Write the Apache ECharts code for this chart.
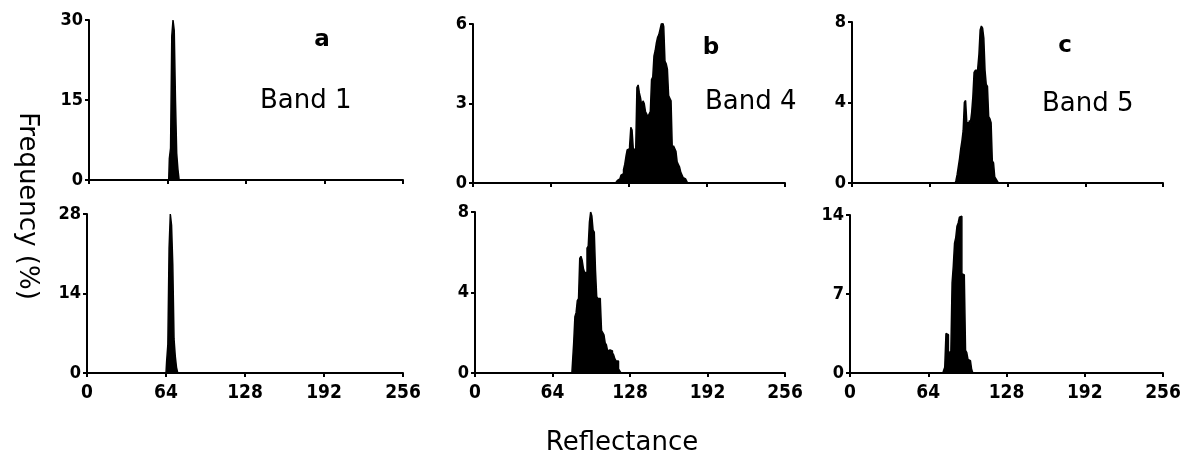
<!DOCTYPE html>
<html>
<head>
<meta charset="utf-8">
<script src="https://cdn.jsdelivr.net/npm/echarts@6/dist/echarts.min.js"></script>
<style>html,body{margin:0;padding:0;background:#fff}#c{width:1193px;height:464px}</style>
</head>
<body>
<div id="c"></div>
<script>
// x ticks (reflectance)
const xTicks = [0, 64, 128, 192, 256];
// y-axis maxima per panel
const yMaxA1 = 30, yMaxB1 = 6, yMaxC1 = 8, yMaxA2 = 28, yMaxB2 = 8, yMaxC2 = 14;
// Histogram data: first reflectance bin + frequencies (%)
const band1TopStart = 66;
const band1Top = [4, 6, 27, 30, 28, 15, 5, 2];
const band4TopStart = 118;
const band4Top = [0.05, 0.1, 0.15, 0.2, 0.3, 0.35, 0.5, 0.7, 1.0, 1.25, 1.3, 1.4, 2.1, 2.0, 1.3, 1.25, 1.3,
  3.6, 3.7, 3.4, 3.2, 2.9, 3.1, 3.0, 2.7, 2.6, 2.5, 2.6, 2.7, 3.9, 4.0, 4.8, 5.0, 5.3, 5.5, 5.6, 5.8,
  6.0, 6.1, 5.9, 4.6, 4.5, 4.3, 3.3, 3.2, 3.1, 1.3, 1.4, 1.3, 1.2, 0.8, 0.7, 0.6, 0.4, 0.3, 0.2, 0.15, 0.1, 0.05];
const band5TopStart = 86;
const band5Top = [0.1, 0.4, 0.8, 1.2, 1.7, 2.1, 2.6, 4.0, 4.1, 3.0, 3.0, 3.1, 3.0, 3.5, 4.3, 5.5, 5.6, 5.6, 5.7,
  6.4, 7.6, 7.8, 7.7, 7.2, 5.6, 4.9, 4.8, 3.3, 3.2, 3.0, 1.1, 1.0, 0.3, 0.2, 0.1];
const band1BotStart = 65;
const band1Bot = [2, 5, 22, 28, 26, 19, 6, 3, 1];
const band4BotStart = 81;
const band4Bot = [0.5, 1.5, 2.8, 3.0, 3.6, 3.7, 5.7, 5.8, 5.6, 5.2, 5.0, 5.0, 6.2, 6.3, 7.5, 8.0, 7.8, 7.1, 7.0,
  5.1, 3.8, 3.7, 3.7, 3.6, 2.1, 2.0, 1.9, 1.5, 1.4, 1.1, 1.15, 1.1, 1.1, 1.0, 0.9, 0.7, 0.6, 0.6, 0.2, 0.1];
const band5BotStart = 77;
const band5Bot = [0.2, 0.5, 3.5, 3.4, 1.8, 1.9, 2.0, 8.0, 9.5, 11.5, 12.0, 13.0, 13.3, 13.8, 13.9, 8.8, 8.7, 8.5,
  2.0, 1.8, 1.2, 1.1, 1.0, 0.3];
// texts
const panelLetters = ['a', 'b', 'c'];
const bandNames = ['Band 1', 'Band 4', 'Band 5'];
const yTitle = 'Frequency (%)';
const xTitle = 'Reflectance';

function toPairs(start, arr) {
  const out = [[start - 1, 0]];
  arr.forEach((v, i) => out.push([start + i, v]));
  out.push([start + arr.length, 0]);
  return out;
}

const panels = [
  {grid: {left: 89, top: 20, width: 314, height: 160}, max: yMaxA1, data: toPairs(band1TopStart, band1Top), labels: false},
  {grid: {left: 473, top: 24, width: 312, height: 159}, max: yMaxB1, data: toPairs(band4TopStart, band4Top), labels: false},
  {grid: {left: 852, top: 22, width: 311, height: 161}, max: yMaxC1, data: toPairs(band5TopStart, band5Top), labels: false},
  {grid: {left: 87, top: 214, width: 316, height: 159}, max: yMaxA2, data: toPairs(band1BotStart, band1Bot), labels: true},
  {grid: {left: 475, top: 212, width: 310, height: 161}, max: yMaxB2, data: toPairs(band4BotStart, band4Bot), labels: true},
  {grid: {left: 850, top: 215, width: 313, height: 158}, max: yMaxC2, data: toPairs(band5BotStart, band5Bot), labels: true}
];

const numFont = '"DejaVu Sans Condensed", "DejaVu Sans", sans-serif';
const axisLine = {show: true, lineStyle: {color: '#000', width: 2}};

const option = {
  animation: false,
  backgroundColor: '#fff',
  grid: panels.map(p => Object.assign({containLabel: false}, p.grid)),
  xAxis: panels.map((p, i) => ({
    type: 'value', gridIndex: i, min: xTicks[0], max: xTicks[xTicks.length - 1], interval: 64,
    axisLine: axisLine,
    axisTick: {show: true, length: 4, lineStyle: {color: '#000', width: 2}},
    splitLine: {show: false},
    axisLabel: {show: p.labels, color: '#000', fontFamily: numFont, fontWeight: 'bold', fontSize: 19, margin: 11}
  })),
  yAxis: panels.map((p, i) => ({
    type: 'value', gridIndex: i, min: 0, max: p.max, interval: p.max / 2,
    axisLine: axisLine,
    axisTick: {show: true, length: 4, lineStyle: {color: '#000', width: 2}},
    splitLine: {show: false},
    axisLabel: {show: true, color: '#000', fontFamily: numFont, fontWeight: 'bold', fontSize: 18, margin: 6}
  })),
  series: panels.map((p, i) => ({
    type: 'line', xAxisIndex: i, yAxisIndex: i, step: 'middle', symbol: 'none',
    data: p.data,
    lineStyle: {color: '#000', width: 1.5},
    areaStyle: {color: '#000', opacity: 1},
    z: 1
  })),
  graphic: [
    {type: 'text', x: 322, y: 40, style: {text: panelLetters[0], font: 'bold 23px "DejaVu Sans"', fill: '#000', align: 'center', verticalAlign: 'middle'}},
    {type: 'text', x: 711, y: 48, style: {text: panelLetters[1], font: 'bold 23px "DejaVu Sans"', fill: '#000', align: 'center', verticalAlign: 'middle'}},
    {type: 'text', x: 1065, y: 46, style: {text: panelLetters[2], font: 'bold 23px "DejaVu Sans"', fill: '#000', align: 'center', verticalAlign: 'middle'}},
    {type: 'text', x: 260, y: 101, style: {text: bandNames[0], font: '26px "DejaVu Sans"', fill: '#000', align: 'left', verticalAlign: 'middle'}},
    {type: 'text', x: 705, y: 102, style: {text: bandNames[1], font: '26px "DejaVu Sans"', fill: '#000', align: 'left', verticalAlign: 'middle'}},
    {type: 'text', x: 1042, y: 104, style: {text: bandNames[2], font: '26px "DejaVu Sans"', fill: '#000', align: 'left', verticalAlign: 'middle'}},
    {type: 'text', x: 27, y: 206, rotation: -Math.PI / 2, style: {text: yTitle, font: '26px "DejaVu Sans"', fill: '#000', align: 'center', verticalAlign: 'middle'}},
    {type: 'text', x: 622, y: 443, style: {text: xTitle, font: '26px "DejaVu Sans"', fill: '#000', align: 'center', verticalAlign: 'middle'}}
  ]
};

const chart = echarts.init(document.getElementById('c'), null, {renderer: 'canvas'});
chart.setOption(option);
</script>
</body>
</html>
